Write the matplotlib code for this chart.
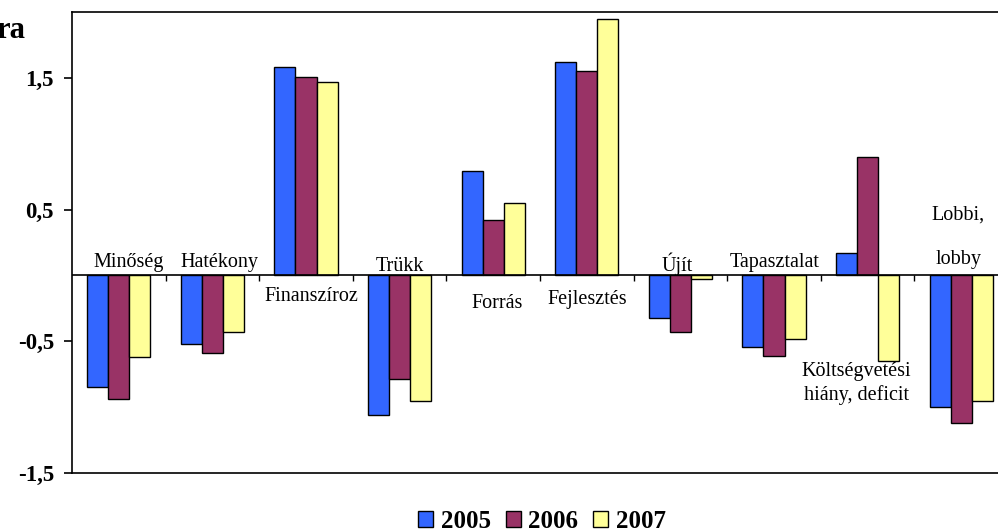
import matplotlib
matplotlib.use("Agg")
import matplotlib.pyplot as plt
import numpy as np
from matplotlib.patches import Patch

categories = ["Minőség", "Hatékony", "Finanszíroz", "Trükk", "Forrás", "Fejlesztés",
              "Újít", "Tapasztalat", "Költségvetési\nhiány, deficit", "Lobbi,\n\nlobby"]
years = ["2005", "2006", "2007"]
v2005 = [-0.85, -0.52, 1.58, -1.06, 0.79, 1.62, -0.32, -0.54, 0.17, -1.00]
v2006 = [-0.94, -0.59, 1.51, -0.79, 0.42, 1.55, -0.43, -0.61, 0.90, -1.12]
v2007 = [-0.62, -0.43, 1.47, -0.95, 0.55, 1.95, -0.03, -0.48, -0.65, -0.95]
yticks = [1.5, 0.5, -0.5, -1.5]
ytick_labels = ["1,5", "0,5", "-0,5", "-1,5"]

colors = ["#3366FF", "#993366", "#FFFF99"]
# label placement (x offset in category units, y in data units)
label_dx = [0.1, 0.08, 0.06, 0.0, 0.04, 0.0, -0.03, 0.01, -0.12, -0.03]
label_y = [0.1, 0.1, -0.16, 0.07, -0.21, -0.18, 0.085, 0.1, -0.82, 0.29]

plt.rcParams['font.family'] = ['Liberation Serif', 'DejaVu Serif']

fig = plt.figure(figsize=(9.98, 5.31), dpi=100)
ax = fig.add_axes([72/998, 58/531, 936/998, 461/531])

x = np.arange(len(categories))
w = 0.225
for i, vals in enumerate([v2005, v2006, v2007]):
    ax.bar(x + (i - 1) * w, vals, width=w, color=colors[i], edgecolor='black',
           linewidth=1.0, zorder=2)

ax.set_xlim(-0.5, len(categories) - 0.5)
ax.set_ylim(-1.5, 2.0)
ax.axhline(0, color='black', linewidth=1.2, zorder=3)
bounds = np.arange(0.5, len(categories) - 0.5, 1.0)
ax.vlines(bounds, -0.04, 0, color='black', linewidth=1.0, zorder=3)

ax.set_xticks([])
ax.set_yticks(yticks)
ax.set_yticklabels(ytick_labels, fontsize=16.5, fontweight='bold')
ax.tick_params(axis='y', direction='out', length=6, width=1.2, pad=7)
for s in ax.spines.values():
    s.set_linewidth(1.2)

for i, c in enumerate(categories):
    ax.text(i + label_dx[i], label_y[i], c, ha='center', va='center',
            fontsize=14.5, linespacing=1.25, zorder=4)

fig.text(25/998, 1 - 30/531, "ra", ha='right', va='center', fontsize=22, fontweight='bold')

handles = [Patch(facecolor=colors[i], edgecolor='black', label=years[i]) for i in range(3)]
fig.legend(handles=handles, loc='center', bbox_to_anchor=(542/998, 1 - 521/531), ncol=3,
           frameon=False, prop={'weight': 'bold', 'size': 18}, handlelength=0.6,
           handleheight=0.6, handletextpad=0.3, columnspacing=0.6)

fig.savefig("out.png", dpi=100)
